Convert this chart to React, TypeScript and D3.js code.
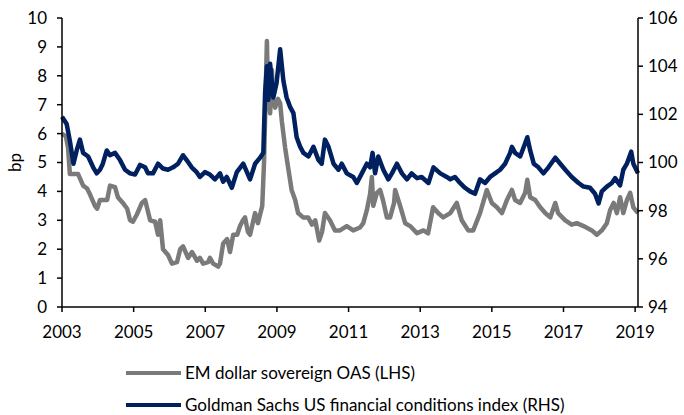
import React from "react";
import * as d3 from "d3";

const W = 684;
const H = 415;

// EM dollar sovereign OAS (LHS) — [decimal year, value]
const oasYears = [
  2003.0, 2003.11, 2003.17, 2003.22, 2003.45, 2003.59, 2003.7, 2003.78, 2003.92, 2003.98,
  2004.06, 2004.26, 2004.34, 2004.48, 2004.56, 2004.7, 2004.82, 2004.9, 2004.98, 2005.09,
  2005.23, 2005.32, 2005.46, 2005.6, 2005.68, 2005.74, 2005.82, 2005.96, 2006.07, 2006.21,
  2006.3, 2006.38, 2006.52, 2006.63, 2006.77, 2006.85, 2006.94, 2007.08, 2007.13, 2007.22,
  2007.36, 2007.41, 2007.5, 2007.61, 2007.69, 2007.78, 2007.89, 2007.97, 2008.05, 2008.11,
  2008.19, 2008.25, 2008.39, 2008.47, 2008.59, 2008.64, 2008.72, 2008.75, 2008.81, 2008.86,
  2008.89, 2008.95, 2009.03, 2009.09, 2009.14, 2009.23, 2009.31, 2009.41, 2009.51, 2009.59,
  2009.73, 2009.87, 2009.98, 2010.07, 2010.18, 2010.26, 2010.34, 2010.48, 2010.62, 2010.76,
  2010.95, 2011.13, 2011.32, 2011.41, 2011.51, 2011.6, 2011.65, 2011.69, 2011.79, 2011.88,
  2011.96, 2012.07, 2012.16, 2012.27, 2012.3, 2012.44, 2012.58, 2012.72, 2012.91, 2013.09,
  2013.22, 2013.36, 2013.5, 2013.64, 2013.84, 2014.02, 2014.16, 2014.34, 2014.48, 2014.67,
  2014.86, 2015.0, 2015.14, 2015.28, 2015.42, 2015.56, 2015.65, 2015.79, 2015.93, 2015.99,
  2016.07, 2016.21, 2016.35, 2016.49, 2016.63, 2016.77, 2016.85, 2017.05, 2017.23, 2017.37,
  2017.56, 2017.79, 2017.93, 2018.07, 2018.21, 2018.3, 2018.4, 2018.49, 2018.58, 2018.67,
  2018.77, 2018.86, 2018.95, 2019.08,
];
const oasValues = [
  6.0, 5.9, 5.5, 4.6, 4.6, 4.2, 4.1, 3.9, 3.5, 3.4,
  3.7, 3.7, 4.2, 4.15, 3.8, 3.6, 3.4, 3.0, 2.95, 3.2,
  3.6, 3.7, 3.0, 2.95, 2.5, 3.0, 2.0, 1.8, 1.5, 1.55,
  2.0, 2.1, 1.7, 1.9, 1.6, 1.7, 1.5, 1.55, 1.7, 1.5,
  1.4, 1.5, 2.2, 2.35, 1.9, 2.5, 2.5, 2.8, 3.0, 3.1,
  2.6, 2.5, 3.25, 2.9, 3.5, 5.0, 9.2, 7.5, 6.7, 8.2,
  7.2, 6.9, 7.2, 7.05, 6.4, 5.5, 4.85, 4.05, 3.7, 3.25,
  3.1, 3.1, 2.85, 3.0, 2.3, 2.6, 3.25, 3.0, 2.65, 2.65,
  2.8, 2.65, 2.75, 2.9, 3.35, 3.9, 4.5, 3.5, 3.95, 4.05,
  3.7, 3.1, 3.1, 3.6, 4.05, 3.5, 2.9, 2.8, 2.55, 2.65,
  2.55, 3.45, 3.25, 3.1, 3.25, 3.6, 3.0, 2.65, 2.65, 3.25,
  4.05, 3.6, 3.45, 3.25, 3.7, 4.05, 3.7, 3.6, 3.95, 4.4,
  3.8, 3.7, 3.45, 3.25, 3.1, 3.6, 3.25, 3.0, 2.85, 2.9,
  2.8, 2.65, 2.5, 2.65, 2.9, 3.35, 3.6, 3.25, 3.8, 3.25,
  3.7, 3.95, 3.45, 3.25,
];

// Goldman Sachs US financial conditions index (RHS)
const fciYears = [
  2003.0, 2003.13, 2003.22, 2003.32, 2003.41, 2003.5, 2003.59, 2003.73, 2003.87, 2003.97,
  2004.06, 2004.14, 2004.25, 2004.34, 2004.48, 2004.62, 2004.76, 2004.9, 2005.04, 2005.18,
  2005.32, 2005.4, 2005.54, 2005.68, 2005.82, 2005.96, 2006.1, 2006.24, 2006.38, 2006.48,
  2006.62, 2006.76, 2006.85, 2006.99, 2007.13, 2007.27, 2007.41, 2007.5, 2007.6, 2007.74,
  2007.88, 2008.06, 2008.25, 2008.39, 2008.53, 2008.62, 2008.67, 2008.72, 2008.76, 2008.81,
  2008.9, 2008.99, 2009.09, 2009.18, 2009.27, 2009.37, 2009.46, 2009.55, 2009.65, 2009.74,
  2009.88, 2010.02, 2010.16, 2010.25, 2010.34, 2010.44, 2010.58, 2010.72, 2010.81, 2010.95,
  2011.13, 2011.23, 2011.37, 2011.51, 2011.6, 2011.67, 2011.74, 2011.83, 2011.97, 2012.11,
  2012.21, 2012.35, 2012.49, 2012.63, 2012.76, 2012.91, 2013.04, 2013.23, 2013.37, 2013.56,
  2013.74, 2013.84, 2013.97, 2014.11, 2014.25, 2014.39, 2014.53, 2014.67, 2014.81, 2014.95,
  2015.09, 2015.23, 2015.37, 2015.51, 2015.56, 2015.65, 2015.79, 2015.93, 2015.99, 2016.07,
  2016.17, 2016.3, 2016.44, 2016.58, 2016.77, 2016.91, 2017.05, 2017.23, 2017.42, 2017.56,
  2017.74, 2017.88, 2017.98, 2018.07, 2018.21, 2018.35, 2018.44, 2018.58, 2018.67, 2018.77,
  2018.89, 2018.95, 2019.08,
];
const fciValues = [
  101.9, 101.6, 100.9, 99.95, 100.5, 100.95, 100.4, 100.25, 99.8, 99.55,
  99.7, 99.95, 100.5, 100.3, 100.4, 100.1, 99.7, 99.55, 99.5, 99.9,
  99.8, 99.55, 99.55, 99.95, 99.75, 99.7, 99.8, 99.95, 100.3, 100.1,
  99.8, 99.6, 99.4, 99.6, 99.5, 99.3, 99.55, 99.2, 99.4, 98.95,
  99.6, 99.95, 99.3, 99.95, 100.2, 100.4, 102.9, 104.0, 102.6, 104.1,
  102.7, 103.3, 104.7, 103.4, 102.7, 102.3, 102.05, 101.05, 100.65, 100.4,
  100.25, 100.65, 100.1, 99.95, 100.95, 100.65, 99.95, 99.7, 99.95, 99.55,
  99.4, 99.15, 99.55, 99.95, 99.8, 100.4, 99.55, 100.25, 99.7, 99.3,
  99.55, 99.95, 99.55, 99.3, 99.55, 99.35, 99.4, 99.15, 99.8, 99.55,
  99.4, 99.3, 99.4, 99.15, 98.95, 98.8, 98.7, 99.3, 99.15, 99.4,
  99.55, 99.7, 99.95, 100.4, 100.65, 100.4, 100.25, 100.8, 101.05, 100.5,
  99.95, 99.8, 99.55, 99.8, 100.2, 99.95, 99.7, 99.4, 99.15, 99.0,
  98.95, 98.7, 98.3, 98.8, 99.0, 99.15, 99.35, 99.05, 99.7, 99.95,
  100.45, 99.95, 99.55,
];

const xTickYears = [2003, 2005, 2007, 2009, 2011, 2013, 2015, 2017, 2019];
const leftTicks = [0, 1, 2, 3, 4, 5, 6, 7, 8, 9, 10];
const rightTicks = [94, 96, 98, 100, 102, 104, 106];
const legendLabels = [
  "EM dollar sovereign OAS (LHS)",
  "Goldman Sachs US financial conditions index (RHS)",
];
const leftAxisTitle = "bp";

const GRAY = "#7a7a7a";
const NAVY = "#002060";
const FONT = "Lato, 'Open Sans', sans-serif";

export default function App() {
  const plot = { left: 62, right: 638, top: 18, bottom: 307 };
  const x = d3.scaleLinear().domain([2003, 2019.08]).range([plot.left, plot.right]);
  const yL = d3.scaleLinear().domain([0, 10]).range([plot.bottom, plot.top]);
  const yR = d3.scaleLinear().domain([94, 106]).range([plot.bottom, plot.top]);

  const oas = oasYears.map((t, i) => [t, oasValues[i]] as [number, number]);
  const fci = fciYears.map((t, i) => [t, fciValues[i]] as [number, number]);

  const lineL = d3
    .line<[number, number]>()
    .x((d) => x(d[0]))
    .y((d) => yL(d[1]));
  const lineR = d3
    .line<[number, number]>()
    .x((d) => x(d[0]))
    .y((d) => yR(d[1]));

  const fs = 17;
  const legendY = [373, 405];
  const legendColors = [GRAY, NAVY];

  return (
    <svg
      width={W}
      height={H}
      style={{ position: "absolute", left: 0, top: 0, background: "#fff" }}
      fontFamily={FONT}
    >
      <rect width={W} height={H} fill="#fff" />
      {/* lines */}
      <path d={lineL(oas) || ""} fill="none" stroke={GRAY} strokeWidth={4.5} strokeLinejoin="round" />
      <path d={lineR(fci) || ""} fill="none" stroke={NAVY} strokeWidth={4.5} strokeLinejoin="round" />

      {/* left axis */}
      <line x1={plot.left} x2={plot.left} y1={plot.top} y2={plot.bottom} stroke="#000" strokeWidth={1.5} />
      {leftTicks.map((t) => (
        <g key={"l" + t}>
          <line x1={plot.left - 5} x2={plot.left} y1={yL(t)} y2={yL(t)} stroke="#000" strokeWidth={1.5} />
          <text x={47} y={yL(t)} dy="0.35em" textAnchor="end" fontSize={fs} fill="#000">
            {t}
          </text>
        </g>
      ))}
      <text
        transform={`translate(${15},${(plot.top + plot.bottom) / 2}) rotate(-90)`}
        textAnchor="middle"
        dy="0.35em"
        fontSize={fs}
        fill="#000"
      >
        {leftAxisTitle}
      </text>

      {/* right axis */}
      <line x1={plot.right} x2={plot.right} y1={plot.top} y2={plot.bottom} stroke="#000" strokeWidth={1.5} />
      {rightTicks.map((t) => (
        <g key={"r" + t}>
          <line x1={plot.right} x2={plot.right + 5} y1={yR(t)} y2={yR(t)} stroke="#000" strokeWidth={1.5} />
          <text x={plot.right + 10} y={yR(t)} dy="0.35em" textAnchor="start" fontSize={fs} fill="#000">
            {t}
          </text>
        </g>
      ))}

      {/* x axis */}
      <line x1={plot.left} x2={plot.right} y1={plot.bottom} y2={plot.bottom} stroke="#000" strokeWidth={1.5} />
      {xTickYears.map((t) => (
        <g key={"x" + t}>
          <line x1={x(t)} x2={x(t)} y1={plot.bottom} y2={plot.bottom + 5} stroke="#000" strokeWidth={1.5} />
          <text x={x(t)} y={plot.bottom + 25} dy="0.35em" textAnchor="middle" fontSize={fs} fill="#000">
            {t}
          </text>
        </g>
      ))}

      {/* legend */}
      {legendLabels.map((lab, i) => (
        <g key={lab}>
          <line x1={126} x2={181} y1={legendY[i]} y2={legendY[i]} stroke={legendColors[i]} strokeWidth={4} />
          <text x={185} y={legendY[i]} dy="0.35em" fontSize={fs} fill="#000">
            {lab}
          </text>
        </g>
      ))}
    </svg>
  );
}
